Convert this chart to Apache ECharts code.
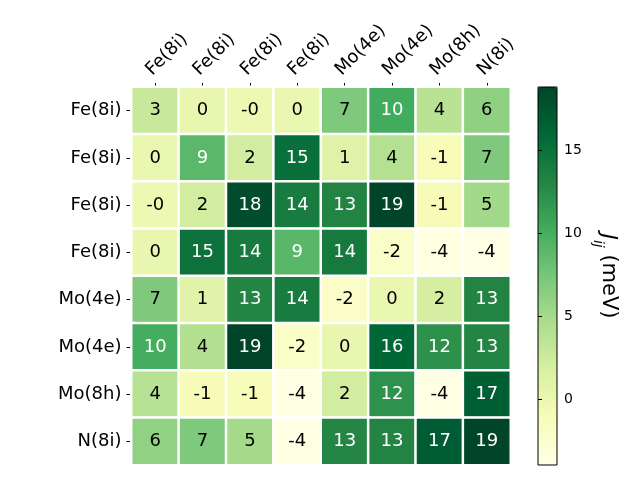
<!DOCTYPE html>
<html><head><meta charset="utf-8">
<script src="https://cdn.jsdelivr.net/npm/echarts@6/dist/echarts.min.js"></script>
<style>html,body{margin:0;padding:0;background:#fff}#c{width:640px;height:480px}</style>
</head><body><div id="c"></div>
<script>
const xLabels = ['Fe(8i)','Fe(8i)','Fe(8i)','Fe(8i)','Mo(4e)','Mo(4e)','Mo(8h)','N(8i)'];
const yLabels = ['Fe(8i)','Fe(8i)','Fe(8i)','Fe(8i)','Mo(4e)','Mo(4e)','Mo(8h)','N(8i)'];
const row0 = [2.8, 0.2, -0.2, 0.1, 7.1, 10.2, 3.8, 6.2];
const row1 = [0.1, 8.9, 2.2, 15.1, 1.2, 4.1, -1.1, 7.0];
const row2 = [-0.2, 2.1, 18.2, 14.0, 13.2, 18.8, -1.0, 5.1];
const row3 = [0.2, 15.0, 14.1, 9.0, 14.2, -2.0, -3.8, -3.97];
const row4 = [7.0, 1.1, 13.1, 14.0, -2.1, 0.1, 2.0, 13.2];
const row5 = [10.1, 4.2, 18.8, -2.0, 0.2, 16.0, 12.2, 13.1];
const row6 = [3.9, -1.0, -1.1, -3.9, 2.1, 12.1, -3.9, 16.8];
const row7 = [6.1, 7.1, 5.0, -3.9, 13.0, 13.2, 16.9, 18.8];
const values = [row0,row1,row2,row3,row4,row5,row6,row7];
const cbTicks = [0, 5, 10, 15];
const vmin = -3.97, vmax = 18.8;
const ylgn = ['#ffffe5','#f7fcb9','#d9f0a3','#addd8e','#78c679','#41ab5d','#238443','#006837','#004529'];
const thr = (vmin + vmax) / 2;
const data = [];
values.forEach((row, i) => row.forEach((v, j) => data.push({
  value: [j, i, v],
  label: { color: v > thr ? '#ffffff' : '#000000' }
})));
const FF = 'DejaVu Sans';
const chart = echarts.init(document.getElementById('c'), null, {renderer: 'canvas'});
chart.setOption({
  backgroundColor: '#ffffff',
  animation: false,
  textStyle: { fontFamily: FF },
  grid: [
    { left: 131.5, top: 87, width: 379, height: 378 },
    { left: 538, top: 87, width: 19, height: 378, show: true, borderColor: '#000', borderWidth: 1, backgroundColor: 'transparent', z: 10 }
  ],
  xAxis: [
    { type: 'category', data: xLabels, position: 'top', gridIndex: 0,
      axisLine: { show: false }, splitLine: { show: false },
      axisTick: { show: true, alignWithLabel: true, length: 4, lineStyle: { color: '#000' } },
      axisLabel: { rotate: -45, fontSize: 18, color: '#000', margin: 8, fontFamily: FF, interval: 0, verticalAlign: 'bottom' } },
    { type: 'value', gridIndex: 1, show: false, min: 0, max: 1 }
  ],
  yAxis: [
    { type: 'category', data: yLabels, inverse: true, gridIndex: 0,
      axisLine: { show: false }, splitLine: { show: false },
      axisTick: { show: true, alignWithLabel: true, length: 5, lineStyle: { color: '#000' } },
      axisLabel: { fontSize: 18, color: '#000', margin: 10, fontFamily: FF, interval: 0 } },
    { type: 'value', gridIndex: 1, min: vmin, max: vmax, position: 'right', z: 10,
      axisLine: { show: false }, splitLine: { show: false },
      axisTick: { show: true, length: 4, lineStyle: { color: '#000' }, customValues: cbTicks },
      axisLabel: { fontSize: 14, color: '#000', margin: 7, fontFamily: FF, customValues: cbTicks },
      name: '{j|J}{s|ij} (meV)', nameLocation: 'middle', nameRotate: -90, nameGap: 40,
      nameTextStyle: { fontSize: 21, color: '#000', fontFamily: FF,
        rich: {
          j: { fontSize: 22, fontStyle: 'italic', fontFamily: FF, color: '#000' },
          s: { fontSize: 14, fontStyle: 'italic', fontFamily: FF, color: '#000', verticalAlign: 'bottom', padding: [0, 0, -6, 0] }
        } } }
  ],
  visualMap: {
    type: 'continuous', min: vmin, max: vmax, seriesIndex: 0, dimension: 2,
    calculable: false, orient: 'vertical', left: 538, top: 87,
    itemWidth: 19, itemHeight: 378, padding: 0,
    inRange: { color: ylgn }, hoverLink: false
  },
  series: [{
    type: 'heatmap', xAxisIndex: 0, yAxisIndex: 0, data: data,
    itemStyle: { borderColor: '#ffffff', borderWidth: 2.5 },
    label: { show: true, fontSize: 18, fontFamily: FF, formatter: p => p.value[2].toFixed(0) },
    emphasis: { disabled: true }
  }]
});
</script></body></html>
